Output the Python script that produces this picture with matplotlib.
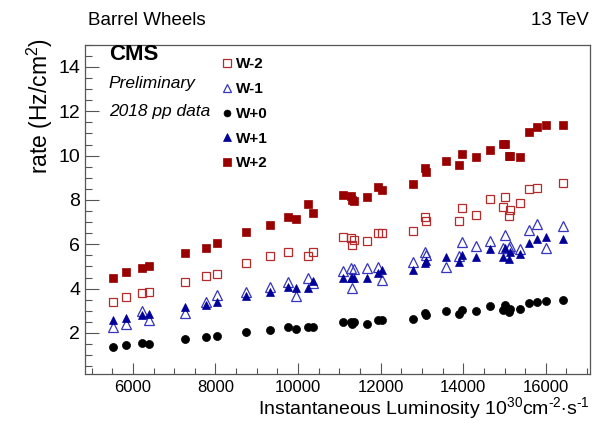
import matplotlib
matplotlib.use("Agg")
import matplotlib.pyplot as plt
import numpy as np
from matplotlib.ticker import MultipleLocator

plt.rcParams['font.family'] = ['Liberation Sans', 'DejaVu Sans']
plt.rcParams['mathtext.fontset'] = 'custom'
plt.rcParams['mathtext.rm'] = 'Liberation Sans'
plt.rcParams['mathtext.it'] = 'Liberation Sans:italic'
plt.rcParams['mathtext.bf'] = 'Liberation Sans:bold'

nan = np.nan

# instantaneous luminosity (10^30 cm^-2 s^-1)
lumi = [5510, 5840, 6225, 6400, 7265, 7775, 8040, 8740, 9330, 9765,
        9955, 10245, 10365, 11090, 11280, 11310, 11365, 11665, 11945, 12030,
        12795, 13065, 13090, 13580, 13905, 13965, 14310, 14645, 14960, 15000,
        15115, 15135, 15385, 15585, 15790, 16005, 16410]

w_m2 = [3.38, 3.61, 3.80, 3.83, 4.28, 4.57, 4.64, 5.16, 5.45, 5.64,
        nan, 5.48, 5.67, 6.33, 6.28, 5.97, 6.20, 6.13, 6.51, 6.51,
        6.62, 7.23, 7.07, nan, 7.07, 7.62, 7.32, 8.05, 7.68, 8.14,
        7.26, 7.53, 7.88, 8.48, 8.56, nan, 8.75]

w_m1 = [2.29, 2.41, 2.97, 2.58, 2.88, 3.42, 3.70, 3.84, 4.09, 4.31,
        3.66, 4.50, 4.24, 4.79, 4.93, 4.01, 4.89, 4.93, 4.96, 4.37,
        5.21, 5.64, 5.50, 4.99, 5.48, 6.09, 5.93, 6.13, 5.83, 6.41,
        5.83, 5.94, 5.80, 6.64, 6.90, 5.83, 6.82]

w_0 = [1.36, 1.45, 1.55, 1.50, 1.71, 1.82, 1.88, 2.04, 2.14, 2.26,
       2.16, 2.26, 2.29, 2.48, 2.51, 2.42, 2.48, 2.42, 2.58, 2.58,
       2.65, 2.88, 2.79, 2.97, 2.87, 3.03, 3.01, 3.20, 3.03, 3.26,
       2.94, 3.08, 3.10, 3.37, 3.42, 3.46, 3.49]

w_p1 = [2.59, 2.67, 2.80, 2.84, 3.17, 3.28, 3.40, 3.66, 3.87, 4.07,
        4.04, 4.04, 4.35, 4.50, 4.50, 4.47, 4.47, 4.46, 4.70, 4.82,
        4.86, 5.15, 5.25, 5.44, 5.22, 5.51, 5.41, 5.80, 5.44, 5.84,
        5.32, 5.65, 5.54, 6.06, 6.23, 6.35, 6.23]

w_p2 = [4.50, 4.76, 4.92, 5.03, 5.60, 5.83, 6.07, 6.56, 6.85, 7.24,
        7.16, 7.82, 7.43, 8.22, 8.20, 7.99, 7.97, 8.14, 8.59, 8.47,
        8.70, 9.44, 9.27, 9.74, 9.57, 10.06, 9.93, 10.26, 10.52, 10.54,
        9.96, 9.97, 9.93, 11.07, 11.29, 11.36, 11.36]

fig = plt.figure(figsize=(5.94, 4.23), dpi=100)
ax = fig.add_axes([0.1431, 0.1158, 0.8502, 0.7785])

red = '#990000'
red_open = '#b52a2a'
blue = '#000099'
blue_open = '#3535c0'

ax.plot(lumi, w_m2, ls='none', marker='s', ms=6.2, mfc='none', mec=red_open, mew=0.9, label='W-2')
ax.plot(lumi, w_m1, ls='none', marker='^', ms=6.8, mfc='none', mec=blue_open, mew=0.9, label='W-1')
ax.plot(lumi, w_0, ls='none', marker='o', ms=5.8, mfc='black', mec='black', mew=0.5, label='W+0')
ax.plot(lumi, w_p1, ls='none', marker='^', ms=6.2, mfc=blue, mec=blue, mew=0.5, label='W+1')
ax.plot(lumi, w_p2, ls='none', marker='s', ms=6.2, mfc=red, mec=red, mew=0.5, label='W+2')

ax.set_xlim(4840, 17070)
ax.set_ylim(0.15, 15)
ax.xaxis.set_major_locator(MultipleLocator(2000))
ax.xaxis.set_minor_locator(MultipleLocator(500))
ax.yaxis.set_major_locator(MultipleLocator(2))
ax.yaxis.set_minor_locator(MultipleLocator(0.5))
ax.tick_params(axis='both', which='both', direction='in', top=False, right=False, color='#555555')
ax.tick_params(axis='y', which='major', length=10, width=0.8, labelsize=14, pad=3.5)
ax.tick_params(axis='y', which='minor', length=5, width=0.8)
ax.tick_params(axis='x', which='major', length=8, width=0.8, labelsize=12, pad=4)
ax.tick_params(axis='x', which='minor', length=4, width=0.8)
for s in ax.spines.values():
    s.set_color('#555555')
    s.set_linewidth(0.9)

leg = ax.legend(loc='upper left', bbox_to_anchor=(0.237, 1.003), frameon=False,
                prop={'weight': 'bold', 'size': 11}, handletextpad=0.05,
                labelspacing=0.7, handlelength=1.1, markerscale=0.85)

fig.text(0.183, 0.858, 'CMS', fontsize=16, fontweight='bold')
fig.text(0.183, 0.792, 'Preliminary', fontsize=12.5, style='italic')
fig.text(0.183, 0.726, '2018 pp data', fontsize=12.5, style='italic')

fig.text(0.148, 0.94, 'Barrel Wheels', fontsize=13.5)
fig.text(0.991, 0.94, '13 TeV', fontsize=13.5, ha='right')

fig.text(0.993, 0.022, 'Instantaneous Luminosity 10$^{30}$cm$^{\u20102}$$\\cdot$s$^{\u20101}$',
         fontsize=14, ha='right')
fig.text(0.068, 0.91, r'rate (Hz/cm$^{2}$)', fontsize=16.5, rotation=90,
         ha='center', va='top')

fig.savefig('out.png', dpi=100)
